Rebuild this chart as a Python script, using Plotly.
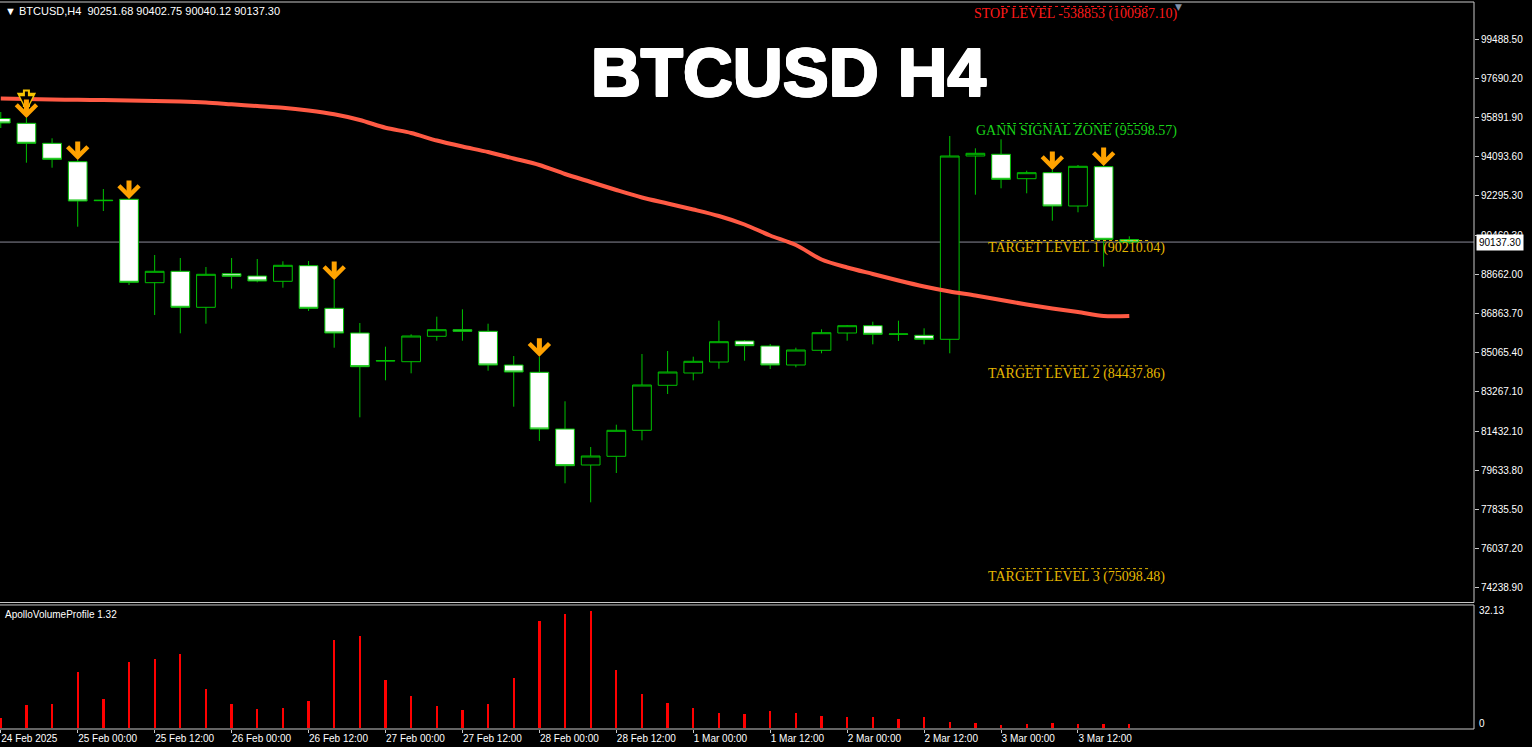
import plotly.graph_objects as go

# ---------------- data ----------------
symbol = "BTCUSD"
timeframe = "H4"

bar_index = list(range(45))

opens = [95827.5, 95606.5, 94685.5, 93838.2, 92042.2, 92106.6, 88266.1, 88791.1, 87133.3, 88680.6,
         88574.7, 88330.6, 89049.0, 87087.3, 85949.8, 84660.4, 84628.2, 85797.8, 86101.8, 86028.1,
         84476.2, 84140.1, 81529.0, 79871.2, 80271.9, 81469.2, 83541.4, 84107.8, 84614.4, 85581.5,
         85351.2, 84476.2, 85153.2, 85949.8, 86286.0, 85889.9, 85843.8, 85659.6, 94100.7, 94180.0,
         93055.4, 93331.6, 91798.2, 93608.0, 90251.68]
highs = [96126.9, 95850.5, 94915.8, 93916.5, 92581.0, 92120.5, 89541.7, 89403.6, 88989.1, 89403.6,
         89357.5, 89251.6, 89265.4, 88390.5, 86410.3, 85318.9, 85889.9, 86700.4, 87041.2, 86378.1,
         84890.7, 84858.5, 82804.6, 80700.1, 81727.1, 84982.8, 85120.9, 84858.5, 86516.3, 85627.5,
         85443.3, 85272.9, 86120.2, 86318.2, 86470.2, 86516.3, 86166.3, 95021.7, 94455.3, 94869.7,
         93423.7, 93456.0, 93686.2, 93640.0, 90402.75]
lows = [95390.0, 93792.1, 93561.9, 90844.9, 91567.9, 88160.2, 86778.7, 85936.0, 86378.1, 87989.9,
        88284.6, 88035.9, 86962.9, 85272.9, 82067.8, 83771.6, 84094.0, 85595.3, 85595.3, 84212.8,
        82556.0, 80976.4, 79028.4, 78153.6, 79502.8, 81008.7, 83140.8, 83771.6, 84306.0, 84674.3,
        84292.0, 84370.3, 85015.0, 85595.3, 85429.5, 85581.5, 85429.5, 85015.0, 92318.5, 92613.3,
        92383.0, 91121.3, 91508.1, 89003.0, 90040.12]
closes = [95620.3, 94685.5, 93948.6, 92028.4, 92060.0, 88284.6, 88791.1, 87133.3, 88653.0, 88560.8,
          88344.4, 89067.4, 87087.3, 85949.8, 84398.0, 84675.0, 85811.6, 86101.8, 86028.1, 84476.2,
          84153.9, 81529.0, 79839.0, 80285.7, 81469.2, 83555.2, 84153.9, 84646.6, 85549.2, 85365.0,
          84476.2, 85167.0, 85963.7, 86286.0, 85889.9, 85905.0, 85659.6, 94100.7, 94224.9, 93027.6,
          93331.6, 91798.2, 93626.4, 90264.7, 90137.30]

ma_values = [96748.5, 96725.5, 96702.5, 96688.6, 96674.8, 96656.4, 96633.4, 96610.4, 96564.3, 96481.3,
             96403.2, 96324.9, 96196.0, 96021.0, 95758.5, 95403.9, 95159.8, 94814.4, 94538.1, 94284.8,
             93985.5, 93686.2, 93271.7, 92903.4, 92535.0, 92189.6, 91913.3, 91637.0, 91337.7, 90946.2,
             90439.7, 90002.2, 89334.5, 88966.1, 88666.8, 88367.5, 88091.2, 87860.9, 87676.7, 87469.5,
             87262.2, 87078.0, 86916.9, 86732.7, 86732.7]

volumes = [2.83, 6.23, 6.67, 15.3, 7.96, 18.1, 18.9, 20.3, 10.6, 6.67,
           5.13, 5.4, 7.4, 24.1, 25.3, 13.1, 8.7, 6.0, 4.9, 6.5,
           13.7, 29.5, 31.3, 32.13, 15.9, 9.3, 6.9, 5.6, 4.2, 3.8,
           4.7, 4.0, 3.2, 3.0, 3.0, 2.6, 3.0, 1.6, 1.4, 0.9,
           1.2, 1.4, 1.2, 1.2, 1.2]
volume_max = 32.13

signal_bars = [1, 3, 5, 13, 21, 41, 43]
hollow_signal_bars = [1]

date_tick_index = [0, 3, 6, 9, 12, 15, 18, 21, 24, 27, 30, 33, 36, 39, 42]
date_tick_labels = ["24 Feb 2025", "25 Feb 00:00", "25 Feb 12:00", "26 Feb 00:00", "26 Feb 12:00",
                    "27 Feb 00:00", "27 Feb 12:00", "28 Feb 00:00", "28 Feb 12:00", "1 Mar 00:00",
                    "1 Mar 12:00", "2 Mar 00:00", "2 Mar 12:00", "3 Mar 00:00", "3 Mar 12:00"]

price_tick_values = [99488.50, 97690.20, 95891.90, 94093.60, 92295.30, 90460.30, 88662.00,
                     86863.70, 85065.40, 83267.10, 81432.10, 79633.80, 77835.50, 76037.20, 74238.90]

level_names = ["STOP LEVEL -538853", "GANN SIGNAL ZONE", "TARGET LEVEL 1", "TARGET LEVEL 2", "TARGET LEVEL 3"]
level_prices = [100987.10, 95598.57, 90210.04, 84437.86, 75098.48]
level_colors = ["#ff1a1a", "#19d419", "#e6b800", "#e6b800", "#e6b800"]
level_start_bar = 39
level_end_bar = 44.85

current_price = 90137.30
indicator_name = "ApolloVolumeProfile 1.32"

# ---------------- styling ----------------
W, H = 1532, 747
GREEN = "#00c000"
AXIS_FONT = dict(family="Liberation Sans, Arial, sans-serif", size=10, color="#ffffff")
FRAME = "#c8c8c8"
main_bottom = 0.174
vol_top = 0.1706
x_range = [-0.03, 57.44]

fig = go.Figure()

# candles
fig.add_trace(go.Candlestick(
    x=bar_index, open=opens, high=highs, low=lows, close=closes,
    increasing=dict(line=dict(color=GREEN, width=1), fillcolor="#000000"),
    decreasing=dict(line=dict(color=GREEN, width=1), fillcolor="#ffffff"),
    whiskerwidth=0, showlegend=False, hoverinfo="skip",
    xaxis="x", yaxis="y",
))

# moving average
fig.add_trace(go.Scatter(
    x=bar_index, y=ma_values, mode="lines",
    line=dict(color="#ff5a44", width=4, shape="spline", smoothing=0.8),
    showlegend=False, hoverinfo="skip", xaxis="x", yaxis="y",
))

# level dotted lines
for price, col in zip(level_prices, level_colors):
    fig.add_trace(go.Scatter(
        x=[level_start_bar, level_end_bar], y=[price, price], mode="lines",
        line=dict(color=col, width=1, dash="dot"), showlegend=False, hoverinfo="skip",
        xaxis="x", yaxis="y",
    ))

# volume bars
fig.add_trace(go.Bar(
    x=bar_index, y=volumes, width=0.09, marker=dict(color="#ff0000", line=dict(width=0)),
    showlegend=False, hoverinfo="skip", xaxis="x2", yaxis="y2",
))

annotations = []

# title
thick = ("1px 0 0 #fff, -1px 0 0 #fff, 0 1px 0 #fff, 0 -1px 0 #fff, "
         "1px 1px 0 #fff, -1px -1px 0 #fff, 1px -1px 0 #fff, -1px 1px 0 #fff")
annotations.append(dict(
    text=f"<b>{symbol} {timeframe}</b>", xref="paper", yref="paper", x=0.5346, y=0.9037,
    xanchor="center", yanchor="middle", showarrow=False,
    font=dict(family="Liberation Sans, Arial, sans-serif", size=69, color="#ffffff", shadow=thick),
))

# header
annotations.append(dict(
    text=f"▼ {symbol},{timeframe}  {opens[-1]:.2f} {highs[-1]:.2f} {lows[-1]:.2f} {closes[-1]:.2f}",
    xref="paper", yref="paper", x=0.0, y=1.0, xanchor="left", yanchor="top", xshift=3, yshift=-1,
    showarrow=False, font=dict(family="Liberation Sans, Arial, sans-serif", size=11, color="#ffffff"),
))

# level labels
for name, price, col in zip(level_names, level_prices, level_colors):
    annotations.append(dict(
        text=f"{name} ({price:.2f})", xref="x", yref="y",
        x=(level_start_bar + level_end_bar) / 2, y=price, xanchor="center", yanchor="middle",
        yshift=-8, showarrow=False,
        font=dict(family="Liberation Serif, Times New Roman, serif", size=14, color=col),
    ))

# hollow (outlined) signal arrow: yellow outer arrow with black inner arrow
for i in hollow_signal_bars:
    annotations.append(dict(
        x=bar_index[i], y=highs[i], xref="x", yref="y", text="", showarrow=True,
        ax=0, ay=-24, yshift=6, arrowhead=2, arrowsize=0.55, arrowwidth=7,
        arrowcolor="#f5c400", standoff=0,
    ))
    annotations.append(dict(
        x=bar_index[i], y=highs[i], xref="x", yref="y", text="", showarrow=True,
        ax=0, ay=-19, yshift=9, arrowhead=2, arrowsize=0.85, arrowwidth=3,
        arrowcolor="#000000", standoff=0,
    ))

# signal arrows
for i in signal_bars:
    annotations.append(dict(
        x=bar_index[i], y=highs[i], xref="x", yref="y", text="", showarrow=True,
        ax=0, ay=-20, arrowhead=4, arrowsize=0.78, arrowwidth=5, arrowcolor="#ffa200", standoff=0,
    ))

# current price label
annotations.append(dict(
    text=f"{current_price:.2f}", xref="paper", yref="y", x=1.0, y=current_price,
    xanchor="left", yanchor="middle", xshift=2, showarrow=False, bgcolor="#ffffff", borderpad=2,
    font=dict(family="Liberation Sans, Arial, sans-serif", size=10, color="#000000"),
))

# volume panel labels
annotations.append(dict(
    text=indicator_name, xref="paper", yref="paper", x=0.0, y=vol_top, xanchor="left", yanchor="top",
    xshift=3, yshift=-2, showarrow=False, font=AXIS_FONT,
))
annotations.append(dict(
    text=f"{volume_max:.2f}", xref="paper", yref="y2", x=1.0, y=volume_max, xanchor="left",
    yanchor="middle", xshift=3, showarrow=False, font=AXIS_FONT,
))
annotations.append(dict(
    text="0", xref="paper", yref="y2", x=1.0, y=0, xanchor="left",
    yanchor="middle", xshift=3, yshift=5, showarrow=False, font=AXIS_FONT,
))

# top shift marker
annotations.append(dict(
    text="▼", xref="paper", yref="paper", x=0.7992, y=1.0, xanchor="center", yanchor="top",
    yshift=2, showarrow=False, font=dict(family="DejaVu Sans, sans-serif", size=9, color="#8090a8"),
))

shapes = [
    # current price line
    dict(type="line", xref="paper", yref="y", x0=0, x1=1, y0=current_price, y1=current_price,
         line=dict(color="#8a8a98", width=1), layer="below"),
    # frames
    dict(type="line", xref="paper", yref="paper", x0=0, x1=1, y0=1, y1=1, line=dict(color=FRAME, width=1)),
    dict(type="line", xref="paper", yref="paper", x0=0, x1=1, y0=main_bottom, y1=main_bottom,
         line=dict(color=FRAME, width=1)),
    dict(type="line", xref="paper", yref="paper", x0=1, x1=1, y0=main_bottom, y1=1, line=dict(color=FRAME, width=1)),
    dict(type="line", xref="paper", yref="paper", x0=0, x1=1, y0=vol_top, y1=vol_top, line=dict(color=FRAME, width=1)),
    dict(type="line", xref="paper", yref="paper", x0=0, x1=1, y0=0, y1=0, line=dict(color=FRAME, width=1)),
    dict(type="line", xref="paper", yref="paper", x0=1, x1=1, y0=0, y1=vol_top, line=dict(color=FRAME, width=1)),
]

fig.update_layout(
    width=W, height=H,
    margin=dict(l=0, r=58, t=2, b=18),
    paper_bgcolor="#000000", plot_bgcolor="#000000",
    showlegend=False,
    boxgap=0.27, boxgroupgap=0,
    xaxis=dict(domain=[0, 1], range=x_range, anchor="y", showticklabels=False, showgrid=False,
               zeroline=False, showline=False, ticks="", rangeslider=dict(visible=False), fixedrange=True),
    yaxis=dict(domain=[main_bottom, 1], range=[73539.3, 101192.3], side="right", anchor="x",
               tickvals=price_tick_values, ticktext=[f"{v:.2f}" for v in price_tick_values],
               ticks="outside", ticklen=4, tickcolor="#c8c8c8", tickfont=AXIS_FONT,
               showgrid=False, zeroline=False, showline=False),
    xaxis2=dict(domain=[0, 1], range=x_range, anchor="y2", tickvals=date_tick_index,
                ticktext=date_tick_labels, ticklabelposition="outside right", ticks="outside",
                ticklen=3, tickcolor="#c8c8c8", tickfont=AXIS_FONT, showgrid=False, zeroline=False,
                showline=False),
    yaxis2=dict(domain=[0, vol_top], range=[-0.27, 33.78], side="right", anchor="x2",
                showticklabels=False, ticks="", showgrid=False, zeroline=False, showline=False),
    annotations=annotations,
    shapes=shapes,
    bargap=0,
)

fig.write_html(
    "out.html",
    config={"displayModeBar": False},
    post_script="document.body.style.margin='0';document.body.style.overflow='hidden';document.body.style.background='#000';",
)
